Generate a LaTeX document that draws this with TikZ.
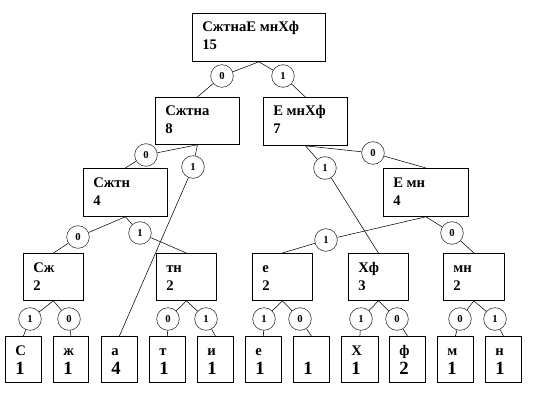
\documentclass[tikz,border=0pt]{standalone}
\usepackage{fontspec}
\setmainfont{Liberation Serif}
\tikzset{
  box/.style={draw, line width=0.6pt, inner sep=0pt, anchor=north west},
  txt/.style={anchor=base west, inner sep=0pt, font=\bfseries\fontsize{11}{13}\selectfont},
  bigtxt/.style={anchor=base west, inner sep=0pt, font=\bfseries\fontsize{14}{16}\selectfont},
  bit/.style={circle, draw=black!80, fill=white, line width=0.45pt, minimum size=17pt, inner sep=0pt, font=\bfseries\fontsize{8}{9}\selectfont},
  conn/.style={line width=0.4pt, draw=black}
}
% name, x, y, width, height, line 1, line 2
\newcommand\ibox[7]{%
  \node[box, minimum width=#4*0.75pt, minimum height=#5*0.75pt] (#1) at (#2,#3) {};
  \node[txt] (#1-a) at ({#2+10},{#3+19}) {#6};
  \node[txt] (#1-b) at ({#2+10},{#3+37}) {#7};}
\newcommand\lbox[5]{%
  \node[box, minimum width=#3*0.75pt, minimum height=46*0.75pt] (#1) at (#2,336) {};
  \node[txt] (#1-a) at ({#2+10},{336+19}) {#4};
  \node[bigtxt] (#1-b) at ({#2+10},{336+38}) {#5};}
\begin{document}
\begin{tikzpicture}[x=0.75pt,y=-0.75pt]
\useasboundingbox (0,0) rectangle (552,420);
% internal boxes
\ibox{root}{192}{13}{133}{48}{СжтнаЕ мнХф}{15}
\ibox{n1}{155}{97}{84}{47}{Сжтна}{8}
\ibox{n2}{263}{97}{84}{48}{Е мнХф}{7}
\ibox{n3}{83}{168}{84}{48}{Сжтн}{4}
\ibox{n4}{383}{168}{85}{48}{Е мн}{4}
\ibox{n5}{23}{253}{60}{47}{Сж}{2}
\ibox{n6}{156}{253}{60}{47}{тн}{2}
\ibox{n7}{252}{253}{60}{47}{е}{2}
\ibox{n8}{348}{253}{60}{47}{Хф}{3}
\ibox{n9}{443}{253}{61}{47}{мн}{2}
% leaves
\lbox{lS}{5}{36}{С}{1}
\lbox{lZh}{53}{35}{ж}{1}
\lbox{lA}{101}{36}{а}{4}
\lbox{lT}{149}{36}{т}{1}
\lbox{lI}{197}{36}{и}{1}
\lbox{lE}{245}{36}{е}{1}
\lbox{lSp}{293}{36}{}{1}
\lbox{lX}{341}{37}{Х}{1}
\lbox{lF}{389}{36}{ф}{2}
\lbox{lM}{437}{36}{м}{1}
\lbox{lN}{485}{36}{н}{1}
% bit circles
\node[bit] (r0) at (222,76) {0};
\node[bit] (r1) at (283,76) {1};
\node[bit] (a0) at (146,155) {0};
\node[bit] (a1) at (193,167) {1};
\node[bit] (b1) at (325,168) {1};
\node[bit] (b0) at (373,153) {0};
\node[bit] (c0) at (78,237) {0};
\node[bit] (c1) at (140,233) {1};
\node[bit] (d1) at (326,240) {1};
\node[bit] (d0) at (452,233) {0};
\node[bit] (e1) at (30,319) {1};
\node[bit] (e0) at (69,319) {0};
\node[bit] (f0) at (168,319) {0};
\node[bit] (f1) at (206,319) {1};
\node[bit] (g1) at (264,319) {1};
\node[bit] (g0) at (300,319) {0};
\node[bit] (h1) at (361,319) {1};
\node[bit] (h0) at (397,319) {0};
\node[bit] (k0) at (460,319) {0};
\node[bit] (k1) at (495,319) {1};
% connectors
\draw[conn] (root.south) -- (r0) -- (n1.north);
\draw[conn] (root.south) -- (r1) -- (n2.north);
\draw[conn] (n1.south) -- (a0) -- (n3.north);
\draw[conn] (n1.south) -- (a1) -- (lA.north);
\draw[conn] (n2.south) -- (b1) -- (n8.north);
\draw[conn] (n2.south) -- (b0) -- (n4.north);
\draw[conn] (n3.south) -- (c0) -- (n5.north);
\draw[conn] (n3.south) -- (c1) -- (n6.north);
\draw[conn] (n4.south) -- (d1) -- (n7.north);
\draw[conn] (n4.south) -- (d0) -- (n9.north);
\draw[conn] (n5.south) -- (e1) -- (lS.north);
\draw[conn] (n5.south) -- (e0) -- (lZh.north);
\draw[conn] (n6.south) -- (f0) -- (lT.north);
\draw[conn] (n6.south) -- (f1) -- (lI.north);
\draw[conn] (n7.south) -- (g1) -- (lE.north);
\draw[conn] (n7.south) -- (g0) -- (lSp.north);
\draw[conn] (n8.south) -- (h1) -- (lX.north);
\draw[conn] (n8.south) -- (h0) -- (lF.north);
\draw[conn] (n9.south) -- (k0) -- (lM.north);
\draw[conn] (n9.south) -- (k1) -- (lN.north);
\end{tikzpicture}
\end{document}
